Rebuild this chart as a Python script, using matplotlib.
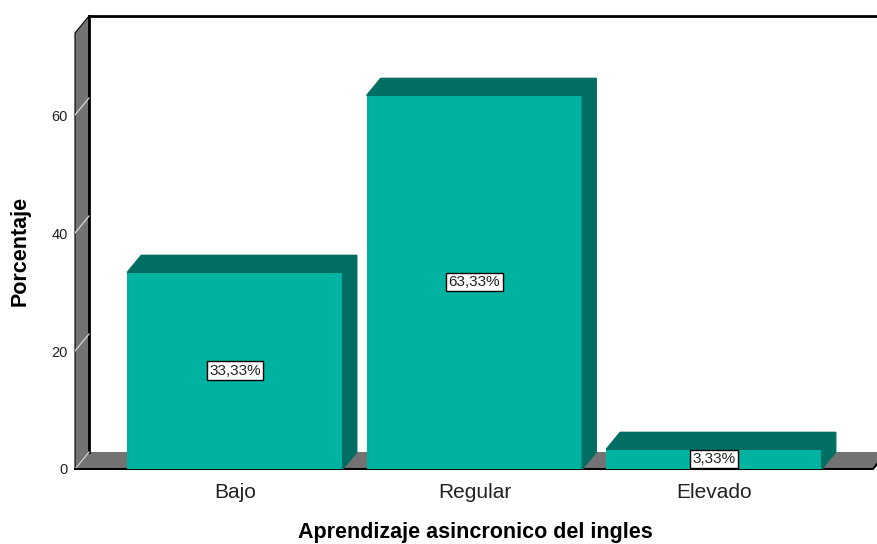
import matplotlib
matplotlib.use("Agg")
import matplotlib.pyplot as plt

# data
categories = ["Bajo", "Regular", "Elevado"]
percentages = [33.33, 63.33, 3.33]
y_ticks = [0, 20, 40, 60]

XLABEL = "Aprendizaje asincronico del ingles"
YLABEL = "Porcentaje"

# style
FRONT = "#00B3A0"
SHADE = "#006E62"
GRAY = "#737373"
DPI = 100
WIDTH, HEIGHT = 878, 544

plt.rcParams["font.family"] = ["Liberation Sans", "DejaVu Sans"]

# axis geometry (data units) for the pseudo 3D box
X0, X1 = -0.668, 2.685
Y_TOP = 76.78
DX, DY = 0.0585, 2.88
X_FLOOR = 2.664
BAR_W = 0.9

fig = plt.figure(figsize=(WIDTH / DPI, HEIGHT / DPI), dpi=DPI)
ax = fig.add_axes([75 / WIDTH, (HEIGHT - 469) / HEIGHT,
                   (WIDTH - 75) / WIDTH, (469 - 16) / HEIGHT])
ax.set_xlim(X0, X1)
ax.set_ylim(0, Y_TOP)
for s in ax.spines.values():
    s.set_visible(False)

# left wall
ax.fill([X0, X0, X0 + DX, X0 + DX], [0, Y_TOP - DY, Y_TOP, DY],
        facecolor=GRAY, edgecolor="black", lw=0.8, zorder=1, clip_on=False)
ax.plot([X0 + DX, X0 + DX], [DY, Y_TOP], color="black", lw=2, zorder=2,
        clip_on=False)
for t in y_ticks:
    ax.plot([X0, X0 + DX], [t, t + DY], color="#d8d8d8", lw=0.9, zorder=2)

# back wall top edge
ax.plot([X0 + DX, X1], [Y_TOP, Y_TOP], color="black", lw=2, zorder=2,
        clip_on=False)

# floor
ax.fill([X0, X_FLOOR, X_FLOOR + DX, X0 + DX], [0, 0, DY, DY],
        facecolor=GRAY, edgecolor="none", zorder=1)
ax.plot([X0, X_FLOOR, X_FLOOR + DX], [0, 0, DY], color="black", lw=1.5,
        zorder=2, clip_on=False)

# bars
xs = list(range(len(categories)))
ax.bar(xs, percentages, width=BAR_W, color=FRONT, zorder=3)
for x, v in zip(xs, percentages):
    l, r = x - BAR_W / 2, x + BAR_W / 2
    ax.fill([l, l + DX, r + DX, r], [v, v + DY, v + DY, v],
            color=SHADE, zorder=3)
    ax.fill([r, r + DX, r + DX, r], [0, DY, v + DY, v],
            color=SHADE, zorder=3)
    ax.text(x, v / 2, f"{v:.2f}%".replace(".", ","), ha="center",
            va="center", fontsize=11, color="#222222", zorder=5,
            bbox=dict(boxstyle="square,pad=0.15", fc="white", ec="black",
                      lw=1))

ax.set_yticks(y_ticks)
ax.set_yticklabels([str(t) for t in y_ticks], fontsize=10.5, color="#222222")
ax.set_xticks(xs)
ax.set_xticklabels(categories, fontsize=15, color="#222222")
ax.tick_params(axis="y", length=0, pad=5)
ax.tick_params(axis="x", length=0, pad=10)

fig.text(20 / WIDTH, 1 - 251 / HEIGHT, YLABEL, rotation=90, ha="center",
         va="center", fontsize=15.5, fontweight="bold")
fig.text(475 / WIDTH, 6 / HEIGHT, XLABEL, ha="center", va="baseline",
         fontsize=15.5, fontweight="bold")

fig.savefig("out.png", dpi=DPI)
